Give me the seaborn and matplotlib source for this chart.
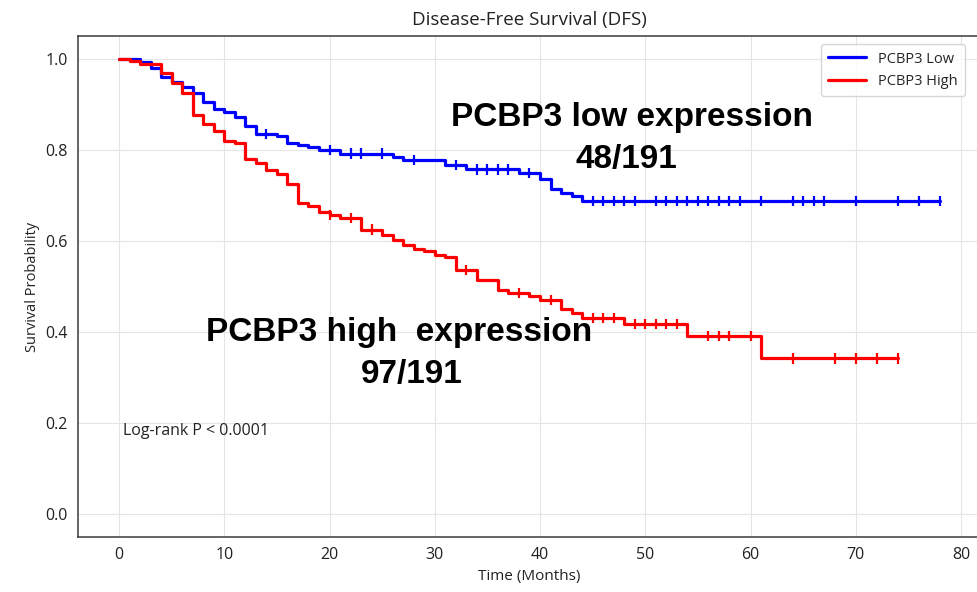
import numpy as np
import pandas as pd
import matplotlib.pyplot as plt
from matplotlib.lines import Line2D
import seaborn as sns

# Kaplan-Meier steps (time in months, survival probability)
low_times = [0, 2, 3, 4, 5, 6, 7, 8, 9, 10, 11, 12, 13, 15, 16, 17, 18, 19, 21, 26,
             27, 31, 33, 38, 40, 41, 42, 43, 44, 78]
low_surv = [1.0, 0.992, 0.980, 0.960, 0.948, 0.937, 0.925, 0.906, 0.890, 0.884, 0.872,
            0.853, 0.835, 0.830, 0.815, 0.811, 0.806, 0.799, 0.792, 0.784, 0.777, 0.767,
            0.757, 0.749, 0.736, 0.715, 0.705, 0.698, 0.687, 0.687]
low_censor = [14, 20, 22, 23, 25, 28, 32, 34, 35, 36, 37, 39, 45, 46, 47, 48, 49, 51, 52,
              53, 54, 55, 56, 57, 58, 59, 61, 64, 65, 66, 67, 70, 74, 76, 78]

high_times = [0, 1, 2, 4, 5, 6, 7, 8, 9, 10, 11, 12, 13, 14, 15, 16, 17, 18, 19, 20, 21,
              23, 25, 26, 27, 28, 29, 30, 31, 32, 34, 36, 37, 39, 40, 42, 43, 44, 48, 54,
              61, 74]
high_surv = [1.0, 0.995, 0.988, 0.969, 0.947, 0.925, 0.877, 0.857, 0.841, 0.819, 0.815,
             0.780, 0.772, 0.755, 0.746, 0.726, 0.684, 0.676, 0.663, 0.657, 0.650, 0.625,
             0.614, 0.603, 0.591, 0.583, 0.577, 0.570, 0.564, 0.536, 0.515, 0.493, 0.486,
             0.479, 0.470, 0.450, 0.442, 0.431, 0.417, 0.391, 0.342, 0.342]
high_censor = [20, 22, 24, 33, 38, 41, 45, 46, 47, 49, 50, 51, 52, 53, 56, 57, 58, 60, 64,
               68, 70, 72, 74]

groups = ["PCBP3 Low", "PCBP3 High"]
colors = {"PCBP3 Low": "#0000ff", "PCBP3 High": "#ff0000"}
x_ticks = [0, 10, 20, 30, 40, 50, 60, 70, 80]
y_ticks = [0.0, 0.2, 0.4, 0.6, 0.8, 1.0]


def value_at(t, times, surv):
    i = np.searchsorted(times, t, side="right") - 1
    return surv[i]


curves = pd.concat([
    pd.DataFrame({"group": groups[0], "time": low_times, "surv": low_surv}),
    pd.DataFrame({"group": groups[1], "time": high_times, "surv": high_surv}),
], ignore_index=True)

censored = pd.concat([
    pd.DataFrame({"group": groups[0], "time": low_censor,
                  "surv": [value_at(t, low_times, low_surv) for t in low_censor]}),
    pd.DataFrame({"group": groups[1], "time": high_censor,
                  "surv": [value_at(t, high_times, high_surv) for t in high_censor]}),
], ignore_index=True)

sns.set_style("whitegrid", {"grid.color": "#e5e5e5", "axes.edgecolor": "#3a3a3a"})
plt.rcParams["font.family"] = ["Open Sans", "DejaVu Sans"]

fig = plt.figure(figsize=(9.78, 5.92), dpi=100)
ax = fig.add_axes([78 / 978, 55 / 592, 903 / 978, 501 / 592])

sns.lineplot(data=curves, x="time", y="surv", hue="group", hue_order=groups,
             palette=colors, drawstyle="steps-post", estimator=None, linewidth=2.3,
             legend=False, ax=ax)
sns.scatterplot(data=censored, x="time", y="surv", hue="group", hue_order=groups,
                palette=colors, marker="|", s=55, linewidth=1.6, legend=False,
                ax=ax, zorder=3)

ax.set_xlim(-3.9, 81.9)
ax.set_ylim(-0.05, 1.05)
ax.set_xticks(x_ticks)
ax.set_yticks(y_ticks)
ax.set_yticklabels([f"{v:.1f}" for v in y_ticks])
ax.tick_params(axis="both", length=4, width=1, color="#3a3a3a", labelsize=11.5,
               labelcolor="#222222")
for sp in ax.spines.values():
    sp.set_linewidth(1.1)

ax.set_title("Disease-Free Survival (DFS)", fontsize=13.5, pad=8, color="#222222")
ax.set_xlabel("Time (Months)", fontsize=11, color="#222222")
ax.set_ylabel("Survival Probability", fontsize=10.5, color="#222222")

handles = [Line2D([0], [0], color=colors[g], lw=2.3) for g in groups]
ax.legend(handles, groups, loc="upper right", bbox_to_anchor=(0.99, 0.998),
          fontsize=10.5, frameon=True, edgecolor="#cccccc", fancybox=True,
          handlelength=2.6, borderpad=0.5)

bold = dict(family=["Liberation Sans", "DejaVu Sans"], fontweight="bold",
            fontsize=24, ha="center", va="center", color="black")
ax.text(48.7, 0.871, "PCBP3 low expression", **bold)
ax.text(48.2, 0.778, "48/191", **bold)
ax.text(26.6, 0.399, "PCBP3 high  expression", **bold)
ax.text(27.8, 0.307, "97/191", **bold)

ax.text(0.4, 0.182, "Log-rank P < 0.0001", fontsize=11.5, ha="left", va="center",
        color="#222222")

fig.savefig("out.png", dpi=100)
